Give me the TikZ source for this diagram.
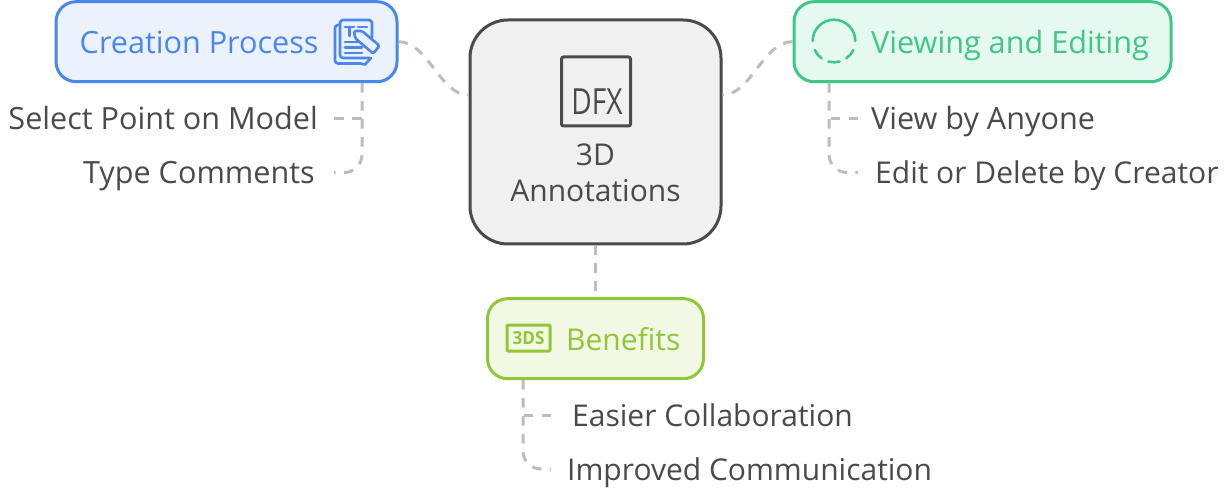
\documentclass[tikz,border=0pt]{standalone}
\usepackage{fontspec}
\setmainfont{Open Sans}
\definecolor{inkgray}{HTML}{4A4A4A}
\definecolor{dashgray}{HTML}{BDBDBD}
\definecolor{blueline}{HTML}{4A86EE}
\definecolor{bluefill}{HTML}{EBF2FE}
\definecolor{greenline}{HTML}{3FC784}
\definecolor{greenfill}{HTML}{E6F9F0}
\definecolor{limeline}{HTML}{91C637}
\definecolor{limefill}{HTML}{F1F8E3}
\tikzset{
  box/.style={draw, line width=3pt, rounded corners=20pt, minimum height=80pt, inner sep=0pt},
  label/.style={font=\fontsize{30}{36}\selectfont, inner sep=0pt, text height=25pt, text depth=3pt},
  wider/.style={font=\fontsize{30.6}{36}\selectfont},
  leaf/.style={label, text=inkgray, inner ysep=0pt, inner xsep=16pt},
  link/.style={draw=dashgray, line width=3pt, dash pattern=on 9.5pt off 8.5pt},
  icon/.style={line width=2.6pt, line cap=round, line join=round}
}
\begin{document}
\begin{tikzpicture}[x=1pt,y=1pt]
  \useasboundingbox (0,0) rectangle (1227,-489);
  \node [box, draw=inkgray, fill=black!6, minimum width=251pt, minimum height=224pt, rounded corners=38pt] (annot) at (595.5,-132) {};
  \node [box, draw=blueline, fill=bluefill, minimum width=341pt] (creation) at (226.5,-41.7) {};
  \node [box, draw=greenline, fill=greenfill, minimum width=377pt] (viewing) at (982.5,-41.7) {};
  \node [box, draw=limeline, fill=limefill, minimum width=216pt] (benefits) at (595.5,-338.7) {};

  \node [label, text=inkgray] (annotone) at (595.5,-154.5) {3D};
  \node [label, text=inkgray] (annottwo) at (595.5,-191) {Annotations};
  \node [label, wider, text=blueline, anchor=west] (creationlabel) at (79.5,-42.5) {Creation Process};
  \node [label, wider, text=greenline, anchor=west] (viewinglabel) at (871,-42.5) {Viewing and Editing};
  \node [label, text=limeline, anchor=west] (benefitslabel) at (566,-339.5) {Benefits};

  \node [leaf, wider, anchor=east] (select) at (334,-118.5) {Select Point on Model};
  \node [leaf, wider, anchor=east, inner xsep=19pt] (type) at (334,-172.5) {Type Comments};
  \node [leaf, wider, anchor=west, inner xsep=13pt] (anyone) at (858,-118.5) {View by Anyone};
  \node [leaf, anchor=west, inner xsep=17pt] (creator) at (858,-172.5) {Edit or Delete by Creator};
  \node [leaf, anchor=west, inner xsep=21pt] (easier) at (551,-415) {Easier Collaboration};
  \node [leaf, anchor=west, inner xsep=16pt] (improved) at (551,-469) {Improved Communication};

  \coordinate (annotleft) at (468.5,-95);
  \coordinate (annotright) at (722.5,-95);
  \coordinate (creationstem) at (362,-83.2);
  \coordinate (creationfork) at (362,-118.5);
  \coordinate (viewingstem) at (829,-83.2);
  \coordinate (viewingfork) at (829,-118.5);
  \coordinate (benefitsstem) at (523,-380.2);
  \coordinate (benefitsfork) at (523,-415);

  \draw [link] (creation.east) .. controls (428,-41.7) and (440,-95) .. (annotleft);
  \draw [link] (viewing.west) .. controls (763,-41.7) and (751,-95) .. (annotright);
  \draw [link] (annot.south) -- (benefits.north);
  \draw [link] (select.east) -- (creationfork);
  \draw [link, rounded corners=18pt] (creationstem) -- (creationstem |- type.east) -- (type.east);
  \draw [link] (anyone.west) -- (viewingfork);
  \draw [link, rounded corners=18pt] (viewingstem) -- (viewingstem |- creator.west) -- (creator.west);
  \draw [link] (easier.west) -- (benefitsfork);
  \draw [link, rounded corners=18pt] (benefitsstem) -- (benefitsstem |- improved.west) -- (improved.west);

  \draw [icon, draw=inkgray, line width=3pt, rounded corners=2pt] (561.5,-57) rectangle (630.5,-126);
  \node [inner sep=0pt, text=inkgray, xscale=0.78, font=\fontsize{36}{36}\selectfont] (dfx) at (597,-102) {DFX};

  \draw [icon, draw=blueline, rounded corners=3pt] (372,-38) -- (372,-20) -- (340,-20) -- (340,-58) -- (360,-58) -- (370,-58);
  \draw [icon, draw=blueline, rounded corners=3pt] (339,-25) -- (335,-25) -- (335,-63.5) -- (360,-63.5);
  \draw [icon, draw=blueline] (360,-63.5) -- (365,-64.5) -- (371,-58);
  \draw [icon, draw=blueline] (345,-27) -- (354,-27) (349.5,-27) -- (349.5,-36);
  \draw [icon, draw=blueline] (358,-27) -- (367,-27) (345,-42) -- (358,-42) (345,-47.5) -- (362,-47.5) (345,-53) -- (362,-53);
  \draw [icon, draw=blueline, fill=bluefill, rounded corners=1.5pt] (354,-31) -- (362,-31) -- (379.5,-45.7) -- (373.3,-53.6) -- (355.2,-38.3) -- cycle;

  \draw [icon, draw=greenline] (855.3,-41) arc (0:180:21.3);
  \draw [icon, draw=greenline] (834,-41) ++(205:21.3) arc (205:235:21.3);
  \draw [icon, draw=greenline] (834,-41) ++(255:21.3) arc (255:285:21.3);
  \draw [icon, draw=greenline] (834,-41) ++(305:21.3) arc (305:335:21.3);

  \draw [icon, draw=limeline, line width=3pt, rounded corners=1pt] (507,-325) rectangle (550,-351);
  \node [inner sep=0pt, text=limeline, xscale=0.95, font=\fontsize{18}{18}\selectfont\bfseries] (threeds) at (528.5,-338.5) {3DS};
\end{tikzpicture}
\end{document}
